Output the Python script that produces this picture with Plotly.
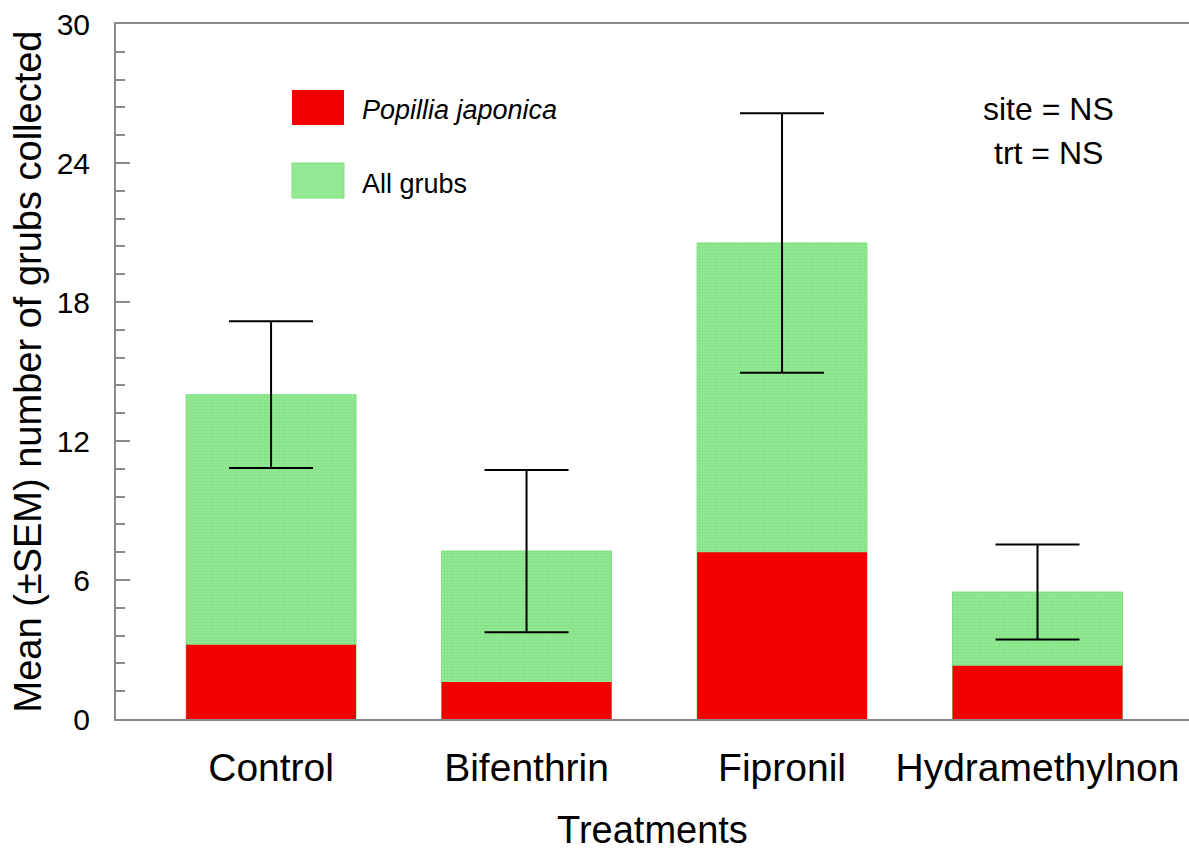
import plotly.graph_objects as go

treatments = ["Control", "Bifenthrin", "Fipronil", "Hydramethylnon"]
all_grubs = [14.0, 7.25, 20.55, 5.48]
all_grubs_sem = [3.17, 3.5, 5.6, 2.05]
japonica = [3.2, 1.6, 7.2, 2.3]
y_ticks = [0, 6, 12, 18, 24, 30]

FONT = "Liberation Sans, Arial, sans-serif"
AXIS_GRAY = "#8a8a8a"

fig = go.Figure()
fig.add_trace(go.Bar(
    x=treatments, y=all_grubs, name="All grubs",
    width=0.665,
    marker=dict(color="#93E993",
                line=dict(color="#7FDE7F", width=1),
                pattern=dict(shape=".", fgcolor="#6FD36F", size=3, solidity=0.4,
                             fillmode="overlay")),
    error_y=dict(type="data", array=all_grubs_sem, visible=True,
                 color="black", thickness=2, width=42),
    showlegend=False,
))
fig.add_trace(go.Bar(
    x=treatments, y=japonica, name="Popillia japonica",
    width=0.665,
    marker=dict(color="#F20000", line=dict(width=0)),
    showlegend=False,
))

# Legend drawn as boxes + labels
fig.add_shape(type="rect", xref="paper", yref="paper",
              x0=0.164, x1=0.2125, y0=0.8547, y1=0.905,
              fillcolor="#F20000", line=dict(width=0))
fig.add_shape(type="rect", xref="paper", yref="paper",
              x0=0.164, x1=0.2125, y0=0.7496, y1=0.800,
              fillcolor="#93E993", line=dict(color="#7FDE7F", width=1))
fig.add_annotation(xref="paper", yref="paper", x=0.2274, y=0.876,
                   text="<i>Popillia japonica</i>", showarrow=False,
                   xanchor="left", yanchor="middle",
                   font=dict(family=FONT, size=27, color="black"))
fig.add_annotation(xref="paper", yref="paper", x=0.2274, y=0.770,
                   text="All grubs", showarrow=False,
                   xanchor="left", yanchor="middle",
                   font=dict(family=FONT, size=27, color="black"))
fig.add_annotation(xref="paper", yref="paper", x=0.8686, y=0.8777,
                   text="site = NS", showarrow=False,
                   xanchor="center", yanchor="middle",
                   font=dict(family=FONT, size=32, color="black"))
fig.add_annotation(xref="paper", yref="paper", x=0.8686, y=0.8144,
                   text="trt = NS", showarrow=False,
                   xanchor="center", yanchor="middle",
                   font=dict(family=FONT, size=32, color="black"))

fig.update_layout(
    width=1189, height=851,
    margin=dict(l=116, r=0, t=24, b=132),
    barmode="overlay",
    plot_bgcolor="white", paper_bgcolor="white",
    font=dict(family=FONT, color="black"),
    bargap=0.335,
)
fig.update_xaxes(
    type="category", range=[-0.607, 3.593],
    showline=True, linecolor=AXIS_GRAY, linewidth=2, mirror=True,
    showgrid=False, ticks="", zeroline=False,
    tickfont=dict(family=FONT, size=39, color="black"),
    ticklabelstandoff=13,
    title=dict(text="Treatments", font=dict(family=FONT, size=38, color="black"),
               standoff=33),
)
fig.update_yaxes(
    range=[0, 30], tickvals=y_ticks,
    showline=True, linecolor=AXIS_GRAY, linewidth=2,
    showgrid=False, zeroline=False,
    ticks="inside", ticklen=14, tickwidth=2, tickcolor=AXIS_GRAY,
    minor=dict(dtick=1.2, ticks="inside", ticklen=9, tickwidth=2, tickcolor=AXIS_GRAY,
               showgrid=False),
    tickfont=dict(family=FONT, size=30, color="black"),
    ticklabelstandoff=18,
    title=dict(text="Mean (±SEM) number of grubs collected",
               font=dict(family=FONT, size=38, color="black"), standoff=3),
)

fig.write_html("out.html")
